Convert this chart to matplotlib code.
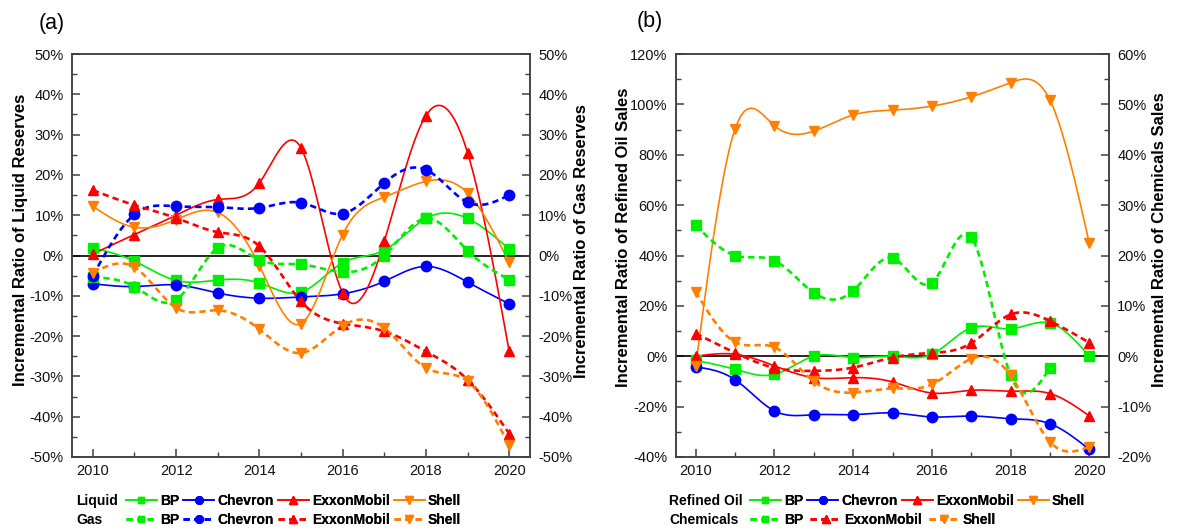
import numpy as np
import matplotlib
matplotlib.use("Agg")
import matplotlib.pyplot as plt
from matplotlib.lines import Line2D
from matplotlib.ticker import MultipleLocator, FuncFormatter

plt.rcParams["font.family"] = ["Liberation Sans", "DejaVu Sans"]
plt.rcParams["axes.linewidth"] = 1.1
plt.rcParams["axes.edgecolor"] = "#404040"

# ---- data (percent) ----
years = np.arange(2010, 2021)

# (a) liquid reserves (left axis)
liq_bp = [1.9, -1.4, -6.2, -6.1, -6.8, -9.1, -1.8, 1.3, 9.2, 9.2, 1.6]
liq_chevron = [-7.0, -7.7, -7.3, -9.3, -10.6, -10.3, -9.5, -6.4, -2.7, -6.6, -12.0]
liq_exxon = [0.4, 5.2, 10.0, 13.9, 18.0, 26.7, -9.3, 3.5, 34.7, 25.5, -23.8]
liq_shell = [12.2, 7.0, 8.9, 10.7, -2.5, -16.9, 5.2, 14.5, 18.4, 15.5, -1.7]
# (a) gas reserves (right axis)
gas_bp = [-5.4, -7.7, -11.0, 1.9, -1.1, -2.2, -4.1, 0.0, 9.2, 1.2, -6.0]
gas_chevron = [-5.0, 10.2, 12.2, 12.0, 11.8, 13.1, 10.4, 18.0, 21.3, 13.2, 15.0]
gas_exxon = [16.2, 12.5, 9.3, 5.8, 2.3, -11.4, -16.9, -18.8, -23.8, -30.8, -44.2]
gas_shell = [-4.3, -2.9, -13.0, -13.6, -18.3, -24.2, -17.4, -18.0, -27.9, -31.2, -47.1]

# (b) refined oil sales (left axis)
oil_bp = [-1.6, -5.2, -7.2, 0.0, -0.5, 0.0, 0.8, 11.3, 10.9, 13.2, 0.0]
oil_chevron = [-4.2, -9.3, -21.7, -23.2, -23.2, -22.5, -24.1, -23.7, -24.8, -26.8, -37.0]
oil_exxon = [0.0, 0.8, -3.8, -8.5, -8.5, -10.2, -14.6, -13.5, -13.9, -14.8, -23.7]
oil_shell = [-4.0, 90.2, 91.5, 89.4, 95.8, 97.7, 99.3, 103.0, 108.6, 101.7, 44.8]
# (b) chemicals sales (right axis)
chem_years_bp = np.arange(2010, 2020)
chem_bp = [26.0, 20.0, 19.0, 12.6, 13.0, 19.5, 14.6, 23.6, -3.8, -2.3]
chem_exxon = [4.5, 0.7, -2.3, -2.9, -2.25, -0.25, 0.66, 2.6, 8.3, 7.0, 2.7]
chem_shell = [12.8, 2.8, 1.8, -5.0, -7.2, -6.4, -5.6, -0.5, -3.8, -17.0, -18.0]

GREEN, BLUE, RED, ORANGE = "#00ee00", "#0000ff", "#ff0000", "#ff8000"
DASH = (0, (2.4, 1.6))
styles = {
    "BP": (GREEN, "s", 6.5),
    "Chevron": (BLUE, "o", 7.5),
    "ExxonMobil": (RED, "^", 7.5),
    "Shell": (ORANGE, "v", 7.5),
}


def spline(x, y, n=40):
    # natural cubic spline, used only to draw the connecting curve
    x = np.asarray(x, float)
    y = np.asarray(y, float)
    m = len(x)
    h = np.diff(x)
    A = np.zeros((m, m))
    b = np.zeros(m)
    A[0, 0] = A[-1, -1] = 1
    for i in range(1, m - 1):
        A[i, i - 1] = h[i - 1]
        A[i, i] = 2 * (h[i - 1] + h[i])
        A[i, i + 1] = h[i]
        b[i] = 3 * ((y[i + 1] - y[i]) / h[i] - (y[i] - y[i - 1]) / h[i - 1])
    c = np.linalg.solve(A, b)
    xs = np.linspace(x[0], x[-1], n * (m - 1) + 1)
    idx = np.clip(np.searchsorted(x, xs, side="right") - 1, 0, m - 2)
    dx = xs - x[idx]
    bb = (y[idx + 1] - y[idx]) / h[idx] - h[idx] * (2 * c[idx] + c[idx + 1]) / 3
    d = (c[idx + 1] - c[idx]) / (3 * h[idx])
    return xs, y[idx] + bb * dx + c[idx] * dx ** 2 + d * dx ** 3


def series(ax, x, y, name, dashed=False):
    color, marker, ms = styles[name]
    xs, ys = spline(x, y)
    if dashed:
        ax.plot(xs, ys, color=color, lw=1.9, ls=DASH, zorder=3)
    else:
        ax.plot(xs, ys, color=color, lw=1.2, zorder=3)
    ax.plot(x, y, ls="none", marker=marker, ms=ms, color=color, mec=color, zorder=4)


def handle(name, dashed=False):
    color, marker, ms = styles[name]
    if dashed:
        return Line2D([], [], color=color, lw=1.9, ls=DASH, marker=marker, ms=ms - 2)
    return Line2D([], [], color=color, lw=1.2, marker=marker, ms=ms - 2)


pct = FuncFormatter(lambda v, p: f"{v:.0f}%")


def style_axes(ax, ax2, left_lim, right_lim, left_step, right_step):
    ax.set_xlim(2009.5, 2020.5)
    ax.set_ylim(*left_lim)
    ax2.set_ylim(*right_lim)
    ax.xaxis.set_major_locator(MultipleLocator(2))
    ax.xaxis.set_minor_locator(MultipleLocator(1))
    ax.yaxis.set_major_locator(MultipleLocator(left_step))
    ax.yaxis.set_minor_locator(MultipleLocator(left_step / 2))
    ax2.yaxis.set_major_locator(MultipleLocator(right_step))
    ax2.yaxis.set_minor_locator(MultipleLocator(right_step / 2))
    ax.yaxis.set_major_formatter(pct)
    ax2.yaxis.set_major_formatter(pct)
    for a in (ax, ax2):
        a.tick_params(which="both", direction="in", labelsize=10.5, colors="#404040",
                      labelcolor="#111111", top=False)
        a.tick_params(which="major", length=6, width=1.1, pad=6)
        a.tick_params(which="minor", length=3.5, width=1.0)
    ax.tick_params(right=False, which="both")
    ax.tick_params(axis="x", pad=5)
    ax.axhline(0, color="black", lw=1.2, zorder=2)


fig = plt.figure(figsize=(11.78, 5.29), dpi=100)
lab_kw = dict(fontsize=12, fontweight="bold")

# ---- panel (a) ----
axa = fig.add_axes([72 / 1178, 1 - 457 / 529, 458 / 1178, 403 / 529])
axa2 = axa.twinx()
style_axes(axa, axa2, (-50, 50), (-50, 50), 10, 10)
series(axa, years, liq_bp, "BP")
series(axa, years, liq_chevron, "Chevron")
series(axa, years, liq_exxon, "ExxonMobil")
series(axa, years, liq_shell, "Shell")
series(axa2, years, gas_bp, "BP", True)
series(axa2, years, gas_chevron, "Chevron", True)
series(axa2, years, gas_exxon, "ExxonMobil", True)
series(axa2, years, gas_shell, "Shell", True)
axa.set_ylabel("Incremental Ratio of Liquid Reserves", **lab_kw)
axa2.set_ylabel("Incremental Ratio of Gas Reserves", rotation=90, **lab_kw)
axa.yaxis.set_label_coords(-0.097, 0.54)
axa2.yaxis.set_label_coords(1.097, 0.535)
fig.text(39 / 1178, 1 - 23 / 529, "(a)", fontsize=15.5, va="center", ha="left")

# ---- panel (b) ----
axb = fig.add_axes([676 / 1178, 1 - 457 / 529, 433 / 1178, 403 / 529])
axb2 = axb.twinx()
style_axes(axb, axb2, (-40, 120), (-20, 60), 20, 10)
series(axb, years, oil_bp, "BP")
series(axb, years, oil_chevron, "Chevron")
series(axb, years, oil_exxon, "ExxonMobil")
series(axb, years, oil_shell, "Shell")
series(axb2, chem_years_bp, chem_bp, "BP", True)
series(axb2, years, chem_exxon, "ExxonMobil", True)
series(axb2, years, chem_shell, "Shell", True)
axb.set_ylabel("Incremental Ratio of Refined Oil Sales", **lab_kw)
axb2.set_ylabel("Incremental Ratio of Chemicals Sales", rotation=90, **lab_kw)
axb.yaxis.set_label_coords(-0.103, 0.545)
axb2.yaxis.set_label_coords(1.100, 0.54)
fig.text(637 / 1178, 1 - 22 / 529, "(b)", fontsize=15.5, va="center", ha="left")

# ---- legends ----
names = ["BP", "Chevron", "ExxonMobil", "Shell"]
leg_kw = dict(frameon=False, loc="center left", borderpad=0, borderaxespad=0,
              handlelength=2.2, handletextpad=0.25, numpoints=1,
              prop={"weight": "bold", "size": 10})
rows = [
    (76, 126, 501, "Liquid", names, False, 0.3),
    (76, 126, 520, "Gas", names, True, 0.3),
    (669, 750, 501, "Refined Oil", names, False, 0.3),
    (669, 750, 520, "Chemicals", ["BP", "ExxonMobil", "Shell"], True, 0.5),
]
for tx, lx, y, title, labs, dashed, cs in rows:
    yf = 1 - y / 529
    fig.text(tx / 1178, yf, title, fontsize=10, fontweight="bold", va="center")
    lg = fig.legend([handle(n, dashed) for n in labs], labs, ncol=len(labs),
                    bbox_to_anchor=(lx / 1178, yf), columnspacing=cs, **leg_kw)
    fig.add_artist(lg)

fig.savefig("out.png", dpi=100)
